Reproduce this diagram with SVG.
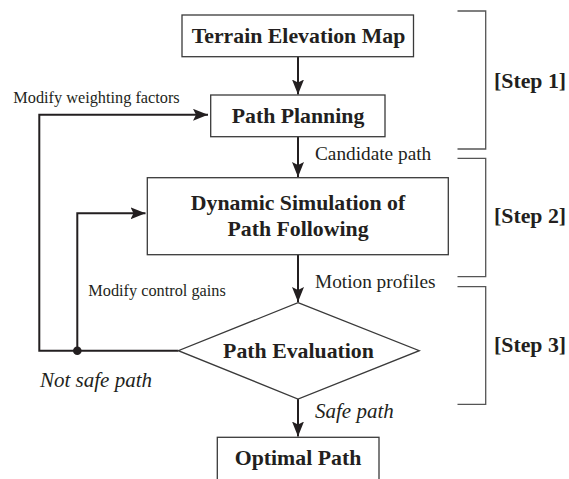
<svg xmlns="http://www.w3.org/2000/svg" width="569" height="479" viewBox="0 0 569 479">
<style>
  .box { fill: #ffffff; stroke: #3a3a3a; stroke-width: 1.3; }
  .node { font-family: "Liberation Serif", "Times New Roman", serif; font-weight: bold; font-size: 21.8px; fill: #231f20; text-anchor: middle; }
  .step { font-family: "Liberation Serif", "Times New Roman", serif; font-weight: bold; font-size: 21.8px; fill: #231f20; }
  .lbl { font-family: "Liberation Serif", "Times New Roman", serif; fill: #231f20; }
  .small { font-size: 16.3px; }
  .mid { font-size: 19.3px; }
  .ital { font-size: 21px; font-style: italic; }
  .conn { fill: none; stroke: #231f20; stroke-width: 2; }
  .brk { fill: none; stroke: #555555; stroke-width: 1.3; }
</style>
<defs>
  <marker id="arr" viewBox="0 0 15 12" refX="15" refY="6" markerWidth="15" markerHeight="12" markerUnits="userSpaceOnUse" orient="auto">
    <path d="M0,0 L15,6 L0,12 L3,6 Z" fill="#231f20"/>
  </marker>
</defs>

<g id="connectors">
  <line class="conn" x1="298" y1="56.7" x2="298" y2="94.5" marker-end="url(#arr)"/>
  <line class="conn" x1="298" y1="136.7" x2="298" y2="177" marker-end="url(#arr)"/>
  <line class="conn" x1="298" y1="255" x2="298" y2="302" marker-end="url(#arr)"/>
  <line class="conn" x1="298" y1="399" x2="298" y2="436.5" marker-end="url(#arr)"/>
  <polyline class="conn" points="178.3,350.7 39.3,350.7 39.3,114.8 208,114.8" marker-end="url(#arr)"/>
  <polyline class="conn" points="77.3,350.7 77.3,213.3 145.5,213.3" marker-end="url(#arr)"/>
  <circle cx="77.3" cy="350.7" r="4.3" fill="#231f20"/>
</g>

<g id="n-terrain">
  <rect class="box" x="182" y="15" width="231.5" height="41.7"/>
  <text class="node" x="298.5" y="43">Terrain Elevation Map</text>
</g>
<g id="n-planning">
  <rect class="box" x="210.7" y="95" width="174.3" height="41.7"/>
  <text class="node" x="298" y="123.3">Path Planning</text>
</g>
<g id="n-simulation">
  <rect class="box" x="147.3" y="177.7" width="301" height="77"/>
  <text class="node" x="298" y="210">Dynamic Simulation of</text>
  <text class="node" x="298" y="235.5">Path Following</text>
</g>
<g id="n-evaluation">
  <polygon class="box" points="298,302.7 419.3,350.7 298,399 178.3,350.7"/>
  <text class="node" x="298.5" y="358.3">Path Evaluation</text>
</g>
<g id="n-optimal">
  <rect class="box" x="217.3" y="437.3" width="161.7" height="50"/>
  <text class="node" x="298" y="465">Optimal Path</text>
</g>

<g id="labels">
  <text class="lbl small" x="13.3" y="102.7">Modify weighting factors</text>
  <text class="lbl small" x="88.3" y="296">Modify control gains</text>
  <text class="lbl mid" x="315" y="160">Candidate path</text>
  <text class="lbl mid" x="315" y="288">Motion profiles</text>
  <text class="lbl ital" x="40" y="387.3">Not safe path</text>
  <text class="lbl ital" x="315" y="418.3">Safe path</text>
</g>

<g id="steps">
  <path class="brk" d="M457.5,11 H485.7 V149 H457.5"/>
  <path class="brk" d="M457.5,158.3 H485.7 V276.7 H457.5"/>
  <path class="brk" d="M457.5,286.7 H485.7 V404.3 H457.5"/>
  <text class="step" x="494" y="87.7">[Step 1]</text>
  <text class="step" x="494" y="223.3">[Step 2]</text>
  <text class="step" x="494" y="351.7">[Step 3]</text>
</g>
</svg>
